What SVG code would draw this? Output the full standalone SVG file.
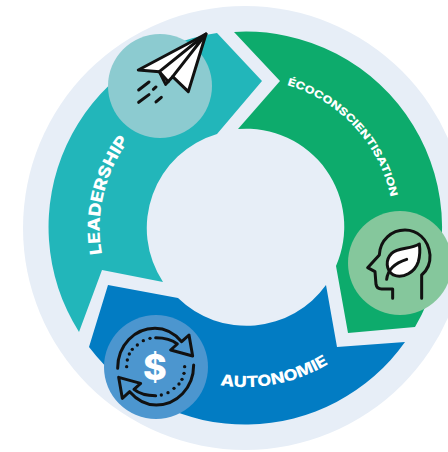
<svg xmlns="http://www.w3.org/2000/svg" width="448" height="452" viewBox="0 0 448 452">
<style>
.lbl{font-family:"Inter","Liberation Sans",sans-serif;font-weight:800;fill:#fff}
.ico{fill:none;stroke:#111;stroke-width:9;stroke-linecap:round;stroke-linejoin:round}
.dot{fill:#111}
</style>
<defs>
<path id="pL" d="M102,254 A146,146 0 0 1 135,133"/>
<path id="pE" d="M287,85 A149,149 0 0 1 392,205"/>
<path id="pA" d="M220,385 A159,159 0 0 0 340,356"/>
</defs>
<rect width="448" height="452" fill="#fff"/>
<circle cx="245" cy="228" r="222" fill="#e7eef7"/>
<g id="connectors">
<path id="seg-leadership" fill="#22b6ba" d="M79,332 A196,196 0 0 1 217,33 L262,81 L217,134 A98,98 0 0 0 163,282 L102,270 Z"/>
<path id="seg-eco" fill="#0dab6c" d="M234,32 A196,196 0 0 1 415,327 L348,333 L336,266 A98,98 0 0 0 238,129 L280,81 Z"/>
<path id="seg-auto" fill="#027cc3" d="M108,285 L178,298 A98,98 0 0 0 326,285 L337,347 L405,342 A196,196 0 0 1 89,347 Z"/>
</g>
<g id="node-leadership">
<circle cx="160" cy="86" r="52" fill="#8ccbd0"/>
<g transform="translate(100 20) scale(.3333)">
<path d="M318,42 L115,150 L178,155 L197,193 L218,170 L265,215 Z" fill="#fff" stroke="#111" stroke-width="9" stroke-linejoin="round"/>
<path class="ico" d="M318,42 L178,155 M318,42 L218,170 M178,155 L205,185"/>
<path class="ico" d="M116,210 L147,186 M160,208 L168,201 M116,247 L147,224 M168,246 L184,232"/>
</g>
<text class="lbl" font-size="16.500"><textPath href="#pL" textLength="120" lengthAdjust="spacingAndGlyphs">LEADERSHIP</textPath></text>
</g>
<g id="node-eco">
<circle cx="400" cy="263" r="52" fill="#85c79c"/>
<g transform="translate(320 190) scale(.3333)">
<path class="ico" d="M305,325 L305,255 Q332,232 330,195 C325,145 290,120 255,120 C215,120 180,150 178,195 L143,233 L165,245 L168,283 Q170,297 185,297 L218,297 L218,325"/>
<path d="M298,162 C270,178 235,172 215,190 C195,210 198,240 220,255 C250,268 285,245 295,215 Q302,190 298,162 Z" fill="#fff" stroke="#111" stroke-width="9" stroke-linejoin="round"/>
<path class="ico" d="M200,268 Q205,225 260,208"/>
</g>
<text class="lbl" font-size="10.500"><textPath href="#pE" textLength="160" lengthAdjust="spacingAndGlyphs">ÉCOCONSCIENTISATION</textPath></text>
</g>
<g id="node-auto">
<circle cx="156" cy="367" r="52" fill="#4c96cf"/>
<g transform="translate(70 270) scale(.3333)">
<g id="arr">
<path class="ico" d="M143,295 C143,225 195,175 255,175 C290,175 315,192 335,215 L357,195 L368,258 L302,240 L322,222 C305,208 285,203 257,203"/>
<g class="dot"><circle cx="240" cy="205" r="5"/><circle cx="220" cy="212" r="5"/><circle cx="202" cy="225" r="5"/><circle cx="187" cy="238" r="5"/><circle cx="178" cy="252" r="5"/><circle cx="172" cy="270" r="5"/><circle cx="170" cy="290" r="5"/></g>
</g>
<use href="#arr" transform="rotate(180 257 290)"/>
</g>
<text x="155" y="380" font-family="Inter,'Liberation Sans',sans-serif" font-weight="800" font-size="36" fill="#fff" text-anchor="middle">$</text>
<text class="lbl" font-size="15.500"><textPath href="#pA" textLength="113" lengthAdjust="spacingAndGlyphs">AUTONOMIE</textPath></text>
</g>
</svg>
